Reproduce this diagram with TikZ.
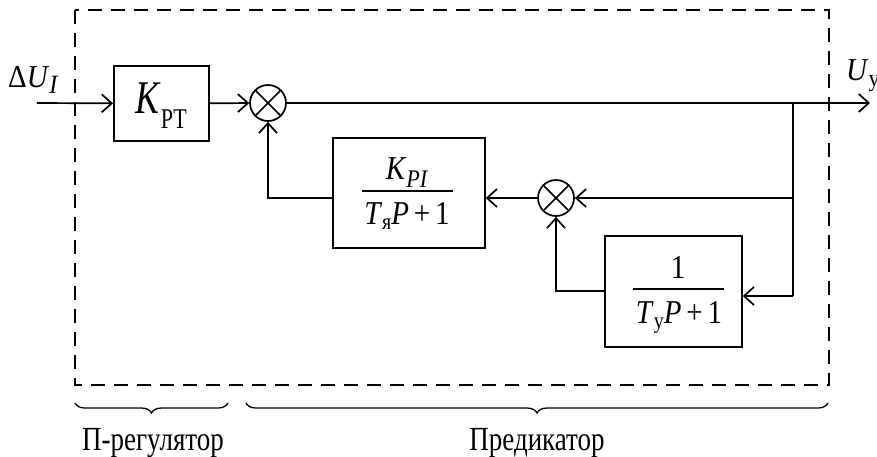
\documentclass[tikz,border=0pt]{standalone}
\usepackage{fontspec}
\setmainfont{Liberation Serif}
\usetikzlibrary{arrows.meta,decorations.pathreplacing}
\newcommand{\fs}[1]{\fontsize{#1}{#1}\selectfont}
\newcommand{\vst}[2]{\scalebox{1}[#1]{#2}}
\begin{document}
\begin{tikzpicture}[x=1pt,y=-1pt,
  ln/.style={line width=1.7pt},
  arr/.style={line width=1.7pt,-{Straight Barb[length=10pt,width=18pt,line width=1.7pt]}},
  blk/.style={draw,line width=1.7pt,inner sep=0pt,anchor=north west},
  sumn/.style={draw,circle,line width=1.7pt,minimum size=36pt,inner sep=0pt},
  lbl/.style={inner sep=0pt,anchor=base},
  br/.style={line width=1.3pt,decorate,decoration={brace,mirror,amplitude=10pt}}]
\useasboundingbox (0,0) rectangle (877,456);
% dashed frame
\draw[line width=1.4pt, dash pattern=on 14pt off 9pt] (75,10) rectangle (829,385);
% blocks
\node[blk,minimum width=95pt,minimum height=75pt] (kpt) at (113,65) {};
\node[lbl] (kptt) at (161,113) {\vst{1.3}{\fs{36}\textit{K}\raisebox{-12pt}{\fs{22}РТ}}};
\node[sumn] (s1) at (268,103) {};
\draw[ln] (s1.north west) -- (s1.south east) (s1.north east) -- (s1.south west);
\node[sumn] (s2) at (556,198) {};
\draw[ln] (s2.north west) -- (s2.south east) (s2.north east) -- (s2.south west);
\node[blk,minimum width=152pt,minimum height=110pt] (kpi) at (332,137) {};
\draw[line width=1.3pt] (362,191) -- (453,191);
\node[lbl] (kpin) at (407,179) {\vst{1.15}{\fs{29}\textit{K}\raisebox{-7pt}{\fs{22}\textit{PI}}}};
\node[lbl] (kpid) at (407,224) {\vst{1.15}{\fs{29}\textit{T}\raisebox{-5pt}{\fs{20}я}\textit{P}\,+\,1}};
\node[blk,minimum width=137pt,minimum height=111pt] (ty) at (604,235) {};
\draw[line width=1.3pt] (633,289) -- (724,289);
\node[lbl] (tyn) at (678,278) {\vst{1.15}{\fs{29}1}};
\node[lbl] (tyd) at (679,323) {\vst{1.15}{\fs{29}\textit{T}\raisebox{-5pt}{\fs{20}у}\textit{P}\,+\,1}};
% labels
\node[inner sep=0pt,anchor=base west] (uin) at (8,87) {\vst{1.1}{\fs{29}Δ\textit{U}\raisebox{-6pt}{\fs{24}\textit{I}}}};
\node[inner sep=0pt,anchor=base west] (uout) at (846,80) {\vst{1.1}{\fs{29}\textit{U}\raisebox{-6pt}{\fs{22}у}}};
% connectors
\coordinate (in) at (37,103);
\coordinate (out) at (870,103);
\coordinate (br1) at (793,103);
\coordinate (br2) at (793,198);
\coordinate (br3) at (793,296);
\draw[arr] (in) -- (kpt.west);
\draw[arr] (kpt.east) -- (s1.west);
\draw[arr] (s1.east) -- (out);
\draw[ln] (br1) -- (br3);
\draw[arr] (br3) -- (ty.east |- br3);
\draw[arr] (br2) -- (s2.east);
\draw[arr] (s2.west) -- (kpi.east |- s2);
\draw[arr] (kpi.west |- s2) -| (s1.south);
\draw[arr] (ty.west |- 0,291) -| (s2.south);
% braces
\draw[br] (75,403) -- (228,403);
\draw[br] (246,403) -- (828,403);
\node[lbl] (lp) at (153,450) {\vst{1.25}{\fs{27}П-регулятор}};
\node[lbl] (lpr) at (537,450) {\vst{1.25}{\fs{27}Предикатор}};
\end{tikzpicture}
\end{document}
